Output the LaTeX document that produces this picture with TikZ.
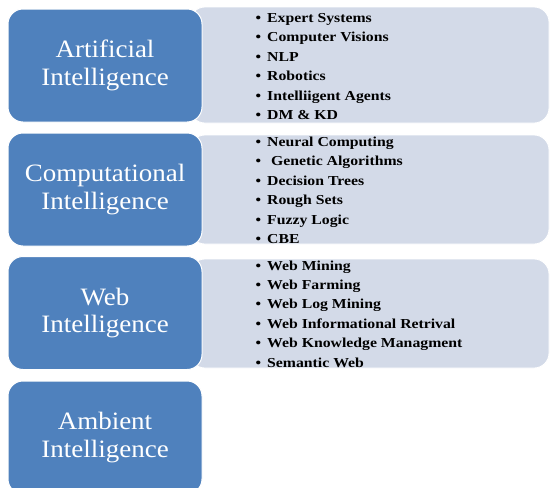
\documentclass[tikz,border=0pt]{standalone}
\usepackage{fontspec}
\setmainfont{Liberation Serif}
\newfontfamily\catface{Liberation Serif}[FakeStretch=1.08]
\newfontfamily\itemface{Liberation Serif}[FakeStretch=1.15]
\definecolor{boxblue}{HTML}{4F81BD}
\definecolor{listbg}{HTML}{D3DAE8}
\begin{document}
\begin{tikzpicture}[x=1pt,y=-1pt,
  catbox/.style={draw=white, line width=1pt, fill=boxblue, rounded corners=15pt,
    minimum width=194pt, minimum height=113pt, text=white, align=center,
    font=\catface\fontsize{25}{27.5}\selectfont, inner sep=0pt},
  listbox/.style={draw=white, line width=0.8pt, fill=listbg, rounded corners=15pt,
    minimum width=359pt, inner sep=0pt},
  itemtext/.style={anchor=base west, inner sep=0pt, font=\itemface\bfseries\fontsize{13.7}{16}\selectfont}]
\clip (0,0) rectangle (550,488);
\fill[white] (0,0) rectangle (550,488);
% list backgrounds
\node[listbox, minimum height=116pt] (l1) at (369.5,65) {};
\node[listbox, minimum height=109pt] (l2) at (369.5,189.5) {};
\node[listbox, minimum height=109pt] (l3) at (369.5,313.5) {};
% category boxes
\node[catbox] (c1) at (105,65.5) {Artificial\\Intelligence};
\node[catbox] (c2) at (105,189.5) {Computational\\Intelligence};
\node[catbox] (c3) at (105,313) {Web\\Intelligence};
\node[catbox] (c4) at (105,437.5) {Ambient\\Intelligence};
% items
\foreach \t [count=\i] in {Expert Systems, Computer Visions, NLP, Robotics, Intelliigent Agents, DM \& KD}
  \node[itemtext] (a\i) at (255.5,{22+19.5*(\i-1)}) {•\hspace{6pt}\t};
\foreach \t [count=\i] in {Neural Computing, {\ Genetic Algorithms}, Decision Trees, Rough Sets, Fuzzy Logic, CBE}
  \node[itemtext] (b\i) at (255.5,{146+19.5*(\i-1)}) {•\hspace{6pt}\t};
\foreach \t [count=\i] in {Web Mining, Web Farming, Web Log Mining, Web Informational Retrival, Web Knowledge Managment, Semantic Web}
  \node[itemtext] (w\i) at (255.5,{270+19.4*(\i-1)}) {•\hspace{6pt}\t};
\end{tikzpicture}
\end{document}
